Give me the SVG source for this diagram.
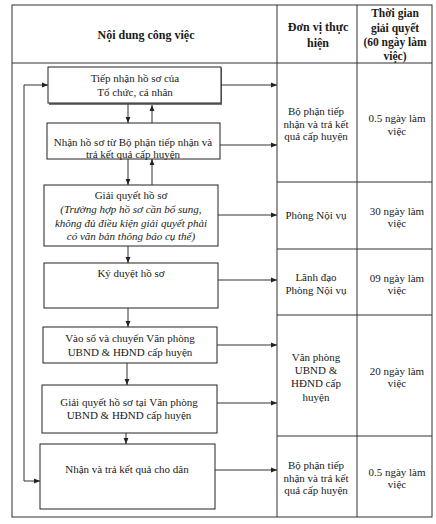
<svg xmlns="http://www.w3.org/2000/svg" width="436" height="524" viewBox="0 0 436 524">
<defs>
<marker id="ah" viewBox="0 0 10 10" refX="10" refY="5" markerWidth="6" markerHeight="6" markerUnits="userSpaceOnUse" orient="auto"><path d="M0,1 L10,5 L0,9 Z" fill="#222"/></marker>
</defs>
<style>
.t{font-family:"Liberation Serif","Times New Roman",serif;font-size:11px;fill:#1a1a1a;text-anchor:middle}
.i{font-style:italic}
.h{font-family:"Liberation Serif","Times New Roman",serif;font-size:12px;font-weight:bold;fill:#1a1a1a;text-anchor:middle}
.g{fill:none;stroke:#333;stroke-width:1}
.b{fill:#fff;stroke:#222;stroke-width:1}
.c{fill:none;stroke:#333;stroke-width:1;marker-end:url(#ah)}
.l{fill:none;stroke:#333;stroke-width:1}
</style>
<rect width="436" height="524" fill="#fff"/>
<g id="table">
<rect class="g" x="12" y="5" width="420" height="512"/>
<line class="g" x1="12" y1="63" x2="432" y2="63"/>
<line class="g" x1="277" y1="5" x2="277" y2="517"/>
<line class="g" x1="357" y1="5" x2="357" y2="517"/>
<line class="g" x1="277" y1="182" x2="432" y2="182"/>
<line class="g" x1="277" y1="249" x2="432" y2="249"/>
<line class="g" x1="277" y1="315" x2="432" y2="315"/>
<line class="g" x1="277" y1="436" x2="432" y2="436"/>
<text class="h" x="146" y="39">Nội dung công việc</text>
<text class="h" x="318" y="31">Đơn vị thực</text>
<text class="h" x="318" y="47">hiện</text>
<text class="h" x="395" y="17" style="font-size:11.5px">Thời gian</text>
<text class="h" x="395" y="31.5" style="font-size:11.5px">giải quyết</text>
<text class="h" x="395" y="46" style="font-size:11.5px">(60 ngày làm</text>
<text class="h" x="395" y="60" style="font-size:11.5px">việc)</text>
<text class="t" x="316" y="115">Bộ phận tiếp</text>
<text class="t" x="316" y="127.5">nhận và trả kết</text>
<text class="t" x="316" y="140">quả cấp huyện</text>
<text class="t" x="397" y="122">0.5 ngày làm</text>
<text class="t" x="397" y="135">việc</text>
<text class="t" x="316" y="219">Phòng Nội vụ</text>
<text class="t" x="397" y="215">30 ngày làm</text>
<text class="t" x="397" y="227">việc</text>
<text class="t" x="316" y="281">Lãnh đạo</text>
<text class="t" x="316" y="294">Phòng Nội vụ</text>
<text class="t" x="397" y="282">09 ngày làm</text>
<text class="t" x="397" y="294">việc</text>
<text class="t" x="316" y="361">Văn phòng</text>
<text class="t" x="316" y="374">UBND &amp;</text>
<text class="t" x="316" y="387">HĐND cấp</text>
<text class="t" x="316" y="401">huyện</text>
<text class="t" x="397" y="375">20 ngày làm</text>
<text class="t" x="397" y="387">việc</text>
<text class="t" x="316" y="469">Bộ phận tiếp</text>
<text class="t" x="316" y="482">nhận và trả kết</text>
<text class="t" x="316" y="494">quả cấp huyện</text>
<text class="t" x="397" y="476">0.5 ngày làm</text>
<text class="t" x="397" y="488">việc</text>
</g>
<g id="n1">
<rect x="49" y="68" width="173" height="37" fill="#777"/>
<rect class="b" x="48" y="67" width="173" height="36"/>
<text class="t" x="135" y="82">Tiếp nhận hồ sơ của</text>
<text class="t" x="135" y="96">Tổ chức, cá nhân</text>
</g>
<g id="n2">
<rect class="b" x="47" y="123" width="173" height="36"/>
<text class="t" x="133" y="146">Nhận hồ sơ từ Bộ phận tiếp nhận và</text>
<text class="t" x="133" y="158">trả kết quả cấp huyện</text>
</g>
<g id="n3">
<rect class="b" x="44" y="185" width="174" height="61"/>
<text class="t" x="131" y="199">Giải quyết hồ sơ</text>
<text class="t i" x="131" y="213">(Trường hợp hồ sơ cần bổ sung,</text>
<text class="t i" x="131" y="227">không đủ điều kiện giải quyết phải</text>
<text class="t i" x="131" y="240">có văn bản thông báo cụ thể)</text>
</g>
<g id="n4">
<rect class="b" x="44" y="263" width="174" height="45"/>
<text class="t" x="131" y="277">Ký duyệt hồ sơ</text>
</g>
<g id="n5">
<rect class="b" x="43" y="327" width="174" height="36"/>
<text class="t" x="130" y="342">Vào sổ và chuyển Văn phòng</text>
<text class="t" x="130" y="356">UBND &amp; HĐND cấp huyện</text>
</g>
<g id="n6">
<rect class="b" x="42" y="385" width="175" height="48"/>
<text class="t" x="129" y="406">Giải quyết hồ sơ tại Văn phòng</text>
<text class="t" x="129" y="419">UBND &amp; HĐND cấp huyện</text>
</g>
<g id="n7">
<rect class="b" x="40" y="444" width="175" height="65"/>
<text class="t" x="127" y="473">Nhận và trả kết quả cho dân</text>
</g>
<g id="connectors">
<path class="c" d="M221,85 H277"/>
<path class="c" d="M220,145 H277"/>
<path class="c" d="M218,215 H277"/>
<path class="c" d="M218,280 H277"/>
<path class="c" d="M217,345 H277"/>
<path class="c" d="M217,403 H277"/>
<path class="c" d="M215,470 H277"/>
<path class="c" d="M128,104 V123"/>
<path class="c" d="M152,123 V105"/>
<path class="c" d="M128,159 V185"/>
<path class="c" d="M152,185 V159"/>
<path class="c" d="M128,246 V263"/>
<path class="c" d="M128,308 V327"/>
<path class="c" d="M127,363 V385"/>
<path class="c" d="M126,433 V444"/>
<path class="l" d="M24,481 V85"/>
<path class="c" d="M24,481 H40"/>
<path class="c" d="M24,85 H48"/>
</g>
</svg>
